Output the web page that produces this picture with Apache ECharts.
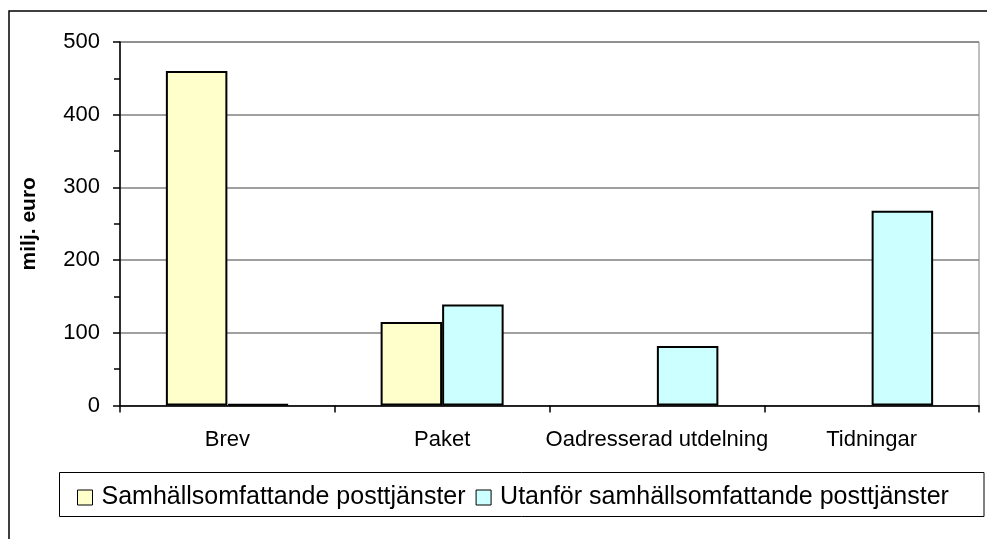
<!DOCTYPE html>
<html>
<head>
<meta charset="utf-8">
<script src="https://cdn.jsdelivr.net/npm/echarts@6/dist/echarts.min.js"></script>
<style>
  html, body { margin: 0; padding: 0; background: #fff; }
  #chart { width: 987px; height: 539px; }
</style>
</head>
<body>
<div id="chart"></div>
<script>
const categories = ['Brev', 'Paket', 'Oadresserad utdelning', 'Tidningar'];
const seriesNames = ['Samhällsomfattande posttjänster', 'Utanför samhällsomfattande posttjänster'];
const universalValues = [460, 115, null, null];
const otherValues = [2, 139, 82, 268];

const font = '"Liberation Sans", Arial, sans-serif';

let myChart = echarts.init(document.getElementById('chart'));
let option = {
    backgroundColor: '#fff',
    animation: false,
    textStyle: { fontFamily: font },
    graphic: [
        {
            // outer frame
            type: 'rect',
            shape: { x: 9, y: 11, width: 1000, height: 560 },
            style: { fill: 'none', stroke: '#000', lineWidth: 1.5 },
            silent: true
        },
        {
            // legend frame
            type: 'rect',
            shape: { x: 59.5, y: 472.5, width: 924.5, height: 44 },
            style: { fill: '#fff', stroke: '#000', lineWidth: 1 },
            z: 0,
            silent: true
        }
    ],
    grid: {
        left: 120,
        top: 42,
        width: 859,
        height: 363.5,
        show: true,
        borderColor: '#808080',
        borderWidth: 1,
        backgroundColor: 'transparent'
    },
    legend: {
        data: seriesNames,
        left: 72,
        top: 480,
        itemWidth: 15,
        itemHeight: 15,
        itemGap: 10,
        icon: 'rect',
        textStyle: { fontSize: 25, color: '#000', fontFamily: font, padding: [0, 0, 0, 4] },
        itemStyle: { borderColor: '#000', borderWidth: 1 },
        z: 5
    },
    xAxis: {
        type: 'category',
        data: categories,
        axisLine: { lineStyle: { color: '#000', width: 1.5 } },
        axisTick: { show: true, interval: 0, length: 7, lineStyle: { color: '#000', width: 1.5 } },
        axisLabel: { interval: 0, fontSize: 22, color: '#000', margin: 23, fontFamily: font },
        splitLine: { show: false }
    },
    yAxis: {
        type: 'value',
        min: 0,
        max: 500,
        interval: 100,
        name: 'milj. euro',
        nameLocation: 'middle',
        nameGap: 80,
        nameTextStyle: { fontSize: 21, fontWeight: 'bold', color: '#000', fontFamily: font },
        axisLine: { show: true, lineStyle: { color: '#000', width: 1.5 } },
        axisTick: { show: true, length: 7, lineStyle: { color: '#000', width: 1.5 } },
        minorTick: { show: true, splitNumber: 2, length: 6, lineStyle: { color: '#000', width: 1.5 } },
        axisLabel: { fontSize: 22, color: '#000', margin: 20, fontFamily: font },
        splitLine: { show: true, lineStyle: { color: '#808080', width: 1.5 } }
    },
    series: [
        {
            name: seriesNames[0],
            type: 'bar',
            data: universalValues,
            barWidth: 61.5,
            barGap: '0%',
            itemStyle: { color: '#FFFFCC', borderColor: '#000', borderWidth: 2 }
        },
        {
            name: seriesNames[1],
            type: 'bar',
            data: otherValues,
            barWidth: 61.5,
            barGap: '0%',
            itemStyle: { color: '#CCFFFF', borderColor: '#000', borderWidth: 2 }
        }
    ]
};
myChart.setOption(option, true);
window.addEventListener('resize', myChart.resize);
</script>
</body>
</html>
